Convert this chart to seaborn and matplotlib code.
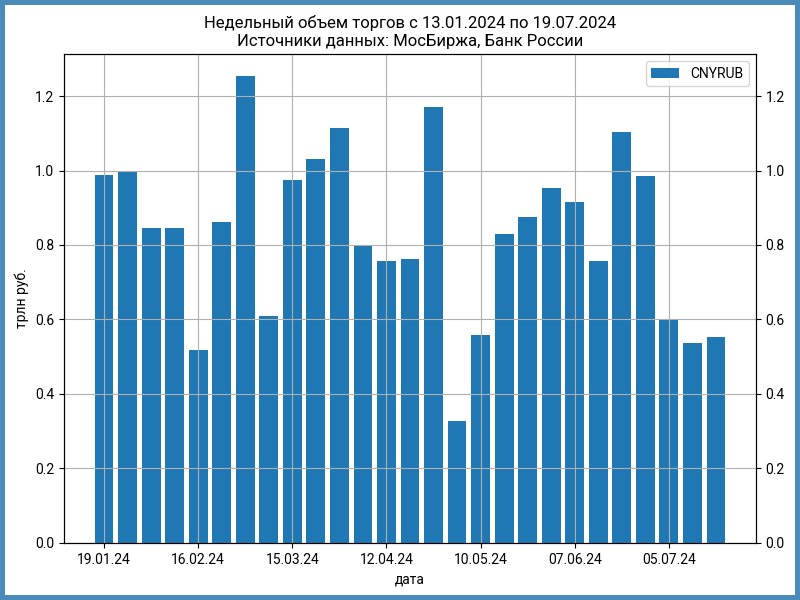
import matplotlib
matplotlib.use("Agg")
import matplotlib.pyplot as plt
import seaborn as sns
import pandas as pd

plt.rcParams['font.family'] = ['Roboto', 'DejaVu Sans']

dates = ["19.01.24", "26.01.24", "02.02.24", "09.02.24", "16.02.24", "23.02.24",
         "01.03.24", "08.03.24", "15.03.24", "22.03.24", "29.03.24", "05.04.24",
         "12.04.24", "19.04.24", "26.04.24", "03.05.24", "10.05.24", "17.05.24",
         "24.05.24", "31.05.24", "07.06.24", "14.06.24", "21.06.24", "28.06.24",
         "05.07.24", "12.07.24", "19.07.24"]
cnyrub = [0.987, 0.995, 0.845, 0.845, 0.519, 0.861, 1.254, 0.608, 0.974, 1.030,
          1.115, 0.799, 0.756, 0.761, 1.170, 0.328, 0.557, 0.829, 0.874, 0.952,
          0.915, 0.756, 1.103, 0.985, 0.598, 0.538, 0.554]
tick_every = 4

df = pd.DataFrame({"date": dates, "value": cnyrub})

fig = plt.figure(figsize=(8, 6), dpi=100)
fig.patch.set_edgecolor('#4a8bba')
fig.patch.set_linewidth(6)
ax = fig.add_axes([0.08, 0.0953, 0.865, 0.8147])

sns.barplot(data=df, x="date", y="value", color="#1f77b4", saturation=1,
            width=0.8, label="CNYRUB", ax=ax)
ax.set_xlim(-1.70, 27.70)
ax.set_ylim(0, max(cnyrub) * 1.047)
tick_pos = list(range(0, len(dates), tick_every))
ax.set_xticks(tick_pos)
ax.set_xticklabels([dates[i] for i in tick_pos], fontsize=10)
ax.tick_params(axis='y', labelsize=10)
ax.set_yticks([0.0, 0.2, 0.4, 0.6, 0.8, 1.0, 1.2])
ax.set_yticklabels([f"{v:.1f}" for v in [0.0, 0.2, 0.4, 0.6, 0.8, 1.0, 1.2]])
ax.grid(True, color='#b0b0b0', linewidth=0.8)
ax.set_axisbelow(False)
ax.set_xlabel("дата", fontsize=10)
ax.set_ylabel("трлн руб.", fontsize=10)
ax.set_title("Недельный объем торгов с 13.01.2024 по 19.07.2024\nИсточники данных: МосБиржа, Банк России",
             fontsize=12, pad=6)
ax.legend(loc='upper right', fontsize=10)

ax2 = ax.twinx()
ax2.set_ylim(ax.get_ylim())
ax2.set_yticks([0.0, 0.2, 0.4, 0.6, 0.8, 1.0, 1.2])
ax2.set_yticklabels([f"{v:.1f}" for v in [0.0, 0.2, 0.4, 0.6, 0.8, 1.0, 1.2]])
ax2.tick_params(axis='y', labelsize=10)

fig.savefig("out.png", dpi=100, edgecolor=fig.get_edgecolor())
